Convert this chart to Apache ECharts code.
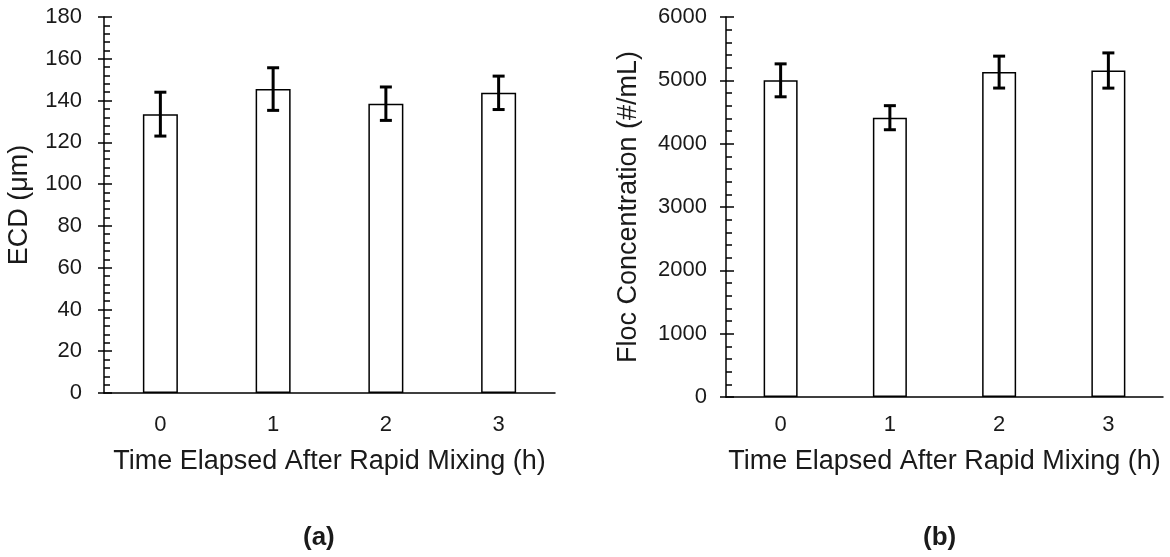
<!DOCTYPE html>
<html>
<head>
<meta charset="utf-8">
<script src="https://cdn.jsdelivr.net/npm/echarts@6/dist/echarts.min.js"></script>
<style>
  html, body { margin: 0; padding: 0; background: #fff; }
  #chart { width: 1170px; height: 557px; }
</style>
</head>
<body>
<div id="chart"></div>
<script>
// categories: hours after rapid mixing
const categories = ['0', '1', '2', '3'];
// (a) equivalent circular diameter, um
const ecdMean = [133.5, 145.5, 138.5, 143.7];
const ecdErr = [10.5, 10.2, 8.0, 8.0];
// (b) floc concentration, #/mL
const flocMean = [5000, 4410, 5130, 5155];
const flocErr = [260, 190, 252, 278];
// axis ranges
const ecdMax = 180, ecdStep = 20;
const flocMax = 6000, flocStep = 1000;

const FONT = '"Liberation Sans", Arial, sans-serif';
const TXT = '#1a1a1a';

let chart = echarts.init(document.getElementById('chart'));

function errData(mean, err) {
  return mean.map((m, i) => [i, m - err[i], m + err[i]]);
}

function errRender(params, api) {
  let x = api.value(0);
  let lo = api.coord([x, api.value(1)]);
  let hi = api.coord([x, api.value(2)]);
  let half = 6;
  let style = { stroke: '#000', lineWidth: 3 };
  return {
    type: 'group',
    children: [
      { type: 'line', shape: { x1: hi[0], y1: hi[1], x2: lo[0], y2: lo[1] }, style: style },
      { type: 'line', shape: { x1: hi[0] - half, y1: hi[1], x2: hi[0] + half, y2: hi[1] }, style: style },
      { type: 'line', shape: { x1: lo[0] - half, y1: lo[1], x2: lo[0] + half, y2: lo[1] }, style: style }
    ]
  };
}

function mainY(grid, max, step, name, gap, labelGap) {
  return {
    type: 'value', gridIndex: grid, min: 0, max: max, interval: step,
    name: name, nameLocation: 'middle', nameGap: gap,
    nameTextStyle: { fontFamily: FONT, fontSize: 27, color: TXT },
    axisLine: { show: true, lineStyle: { color: '#000', width: 1.5 } },
    axisTick: { show: true, length: 6, lineStyle: { color: '#000', width: 1.5 } },
    axisLabel: {
      fontFamily: FONT, fontSize: 22, color: TXT, margin: labelGap,
      formatter: function (v) { return String(v); }
    },
    splitLine: { show: false }
  };
}

// second copy of the axis, only for the inner ticks and minor ticks
function innerY(grid, max, step) {
  return {
    type: 'value', gridIndex: grid, position: 'left', offset: 0,
    min: 0, max: max, interval: step,
    axisLine: { show: false },
    axisTick: { show: true, inside: true, length: 8, lineStyle: { color: '#000', width: 1.5 } },
    minorTick: { show: true, splitNumber: 5, length: 6, lineStyle: { color: '#000', width: 1.5 } },
    axisLabel: { show: false },
    splitLine: { show: false }
  };
}

function xAxis(grid, labelGap, nameGap) {
  return {
    type: 'category', gridIndex: grid, data: categories,
    name: 'Time Elapsed After Rapid Mixing (h)', nameLocation: 'middle', nameGap: nameGap,
    nameTextStyle: { fontFamily: FONT, fontSize: 27, color: TXT },
    axisLine: { show: true, lineStyle: { color: '#000', width: 1.5 } },
    axisTick: { show: false },
    axisLabel: { fontFamily: FONT, fontSize: 22, color: TXT, margin: labelGap }
  };
}

let option = {
  animation: false,
  backgroundColor: '#fff',
  grid: [
    { left: 104, top: 17, width: 451, height: 376 },
    { left: 726, top: 17, width: 437, height: 380 }
  ],
  xAxis: [xAxis(0, 21, 55), xAxis(1, 17, 51)],
  yAxis: [
    mainY(0, ecdMax, ecdStep, 'ECD (\u03bcm)', 71, 22),
    innerY(0, ecdMax, ecdStep),
    mainY(1, flocMax, flocStep, 'Floc Concentration (#/mL)', 84, 19),
    innerY(1, flocMax, flocStep)
  ],
  series: [
    {
      type: 'bar', xAxisIndex: 0, yAxisIndex: 0, data: ecdMean, barWidth: 35,
      itemStyle: { color: '#fff', borderColor: '#000', borderWidth: 1.5 }
    },
    {
      type: 'custom', xAxisIndex: 0, yAxisIndex: 0, data: errData(ecdMean, ecdErr),
      renderItem: errRender, z: 5
    },
    {
      type: 'bar', xAxisIndex: 1, yAxisIndex: 2, data: flocMean, barWidth: 34,
      itemStyle: { color: '#fff', borderColor: '#000', borderWidth: 1.5 }
    },
    {
      type: 'custom', xAxisIndex: 1, yAxisIndex: 2, data: errData(flocMean, flocErr),
      renderItem: errRender, z: 5
    }
  ],
  graphic: [
    { type: 'text', left: 303, top: 525, style: { text: '(a)', font: 'bold 26px ' + FONT, fill: TXT } },
    { type: 'text', left: 923, top: 525, style: { text: '(b)', font: 'bold 26px ' + FONT, fill: TXT } }
  ]
};

if (option && typeof option === 'object') {
  chart.setOption(option);
}
</script>
</body>
</html>
